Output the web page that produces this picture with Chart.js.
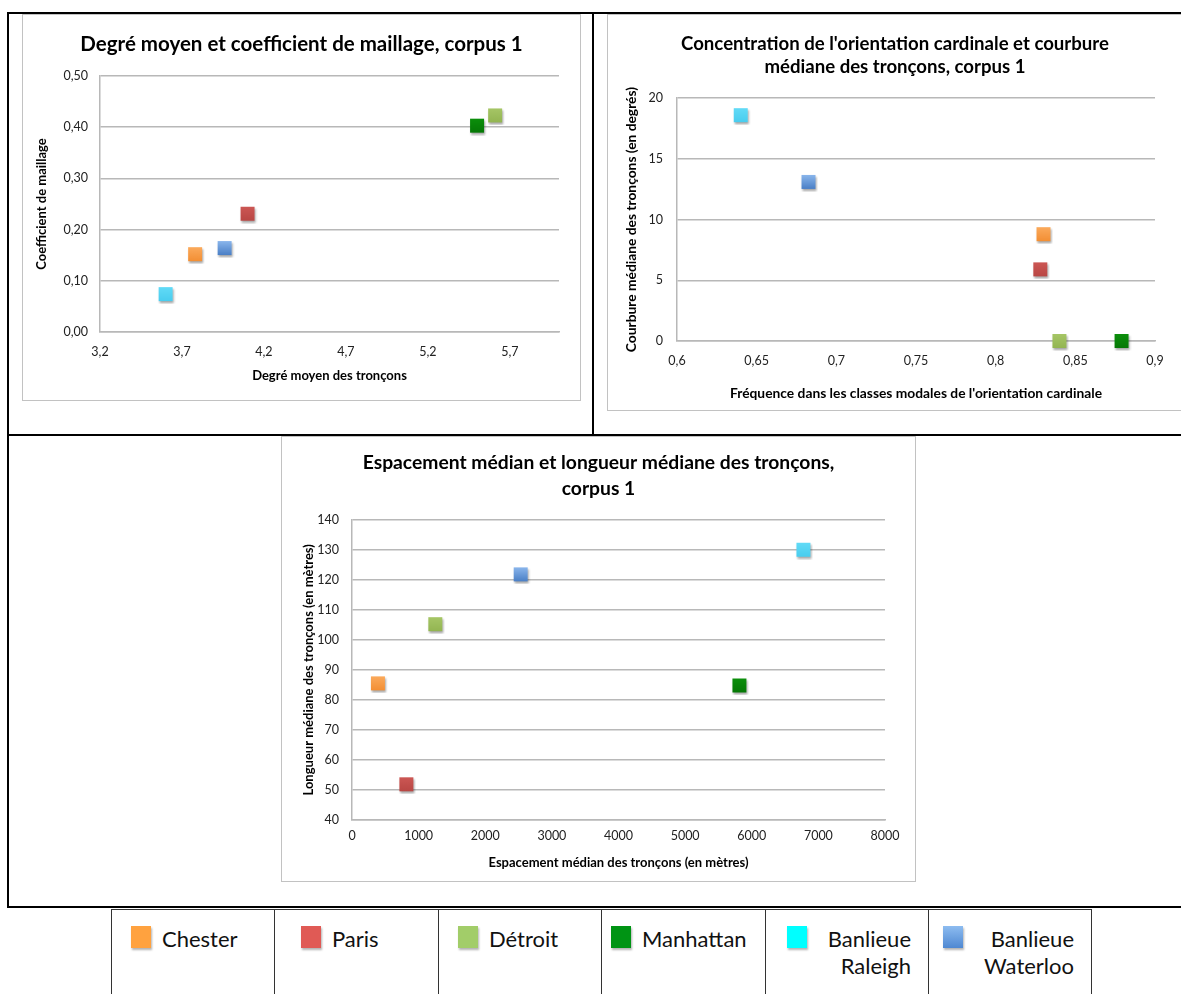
<!DOCTYPE html>
<html lang="fr">
<head>
<meta charset="utf-8">
<title>Corpus 1</title>
<script src="https://cdn.jsdelivr.net/npm/chart.js@4.4.1/dist/chart.umd.min.js"></script>
<style>
    body { margin: 0; width: 1181px; height: 994px; overflow: hidden; background: #fff; position: relative; font-family: 'Lato', sans-serif; }
    .line { position: absolute; background: #000; }
    .box { position: absolute; box-sizing: border-box; border: 1px solid #c2c2c2; background: #fff; }
    .box canvas { display: block; }
    .legend { position: absolute; left: 111px; top: 909px; width: 981px; height: 110px; display: flex; box-sizing: border-box; border-top: 1.5px solid #333; }
    .cell { box-sizing: border-box; border-left: 1.5px solid #333; display: flex; align-items: flex-start; padding-top: 15px; font-size: 22px; line-height: 27px; color: #111; }
    .cell:last-child { border-right: 1.5px solid #333; }
    .swatch { width: 20px; height: 22px; flex: none; margin-top: 1px; box-shadow: 1px 2px 2px rgba(0, 0, 0, 0.3); }
    .label { margin-left: 11px; }
    .label.right { flex: 1; text-align: right; padding-right: 17px; }
</style>
</head>
<body>
<div class="line" style="left:7px;top:12px;width:1180px;height:2px"></div>
<div class="line" style="left:7px;top:12px;width:2px;height:896px"></div>
<div class="line" style="left:592px;top:12px;width:2px;height:424px"></div>
<div class="line" style="left:7px;top:434px;width:1180px;height:2px"></div>
<div class="line" style="left:7px;top:906px;width:1180px;height:2px"></div>

<div class="box" style="left:22px;top:14px;width:559px;height:387px"><canvas id="c1" width="557" height="385"></canvas></div>
<div class="box" style="left:607px;top:14px;width:576px;height:397px"><canvas id="c2" width="574" height="395"></canvas></div>
<div class="box" style="left:281px;top:436px;width:635px;height:446px"><canvas id="c3" width="633" height="444"></canvas></div>

<div class="legend" id="legend"></div>

<script>
// villes du corpus 1, dans l'ordre de la légende
const villes = ['Chester', 'Paris', 'Détroit', 'Manhattan', 'Banlieue Raleigh', 'Banlieue Waterloo'];

// graphique 1 : degré moyen / coefficient de maillage
const degreMoyen = [3.78, 4.10, 5.61, 5.50, 3.60, 3.96];
const coefMaillage = [0.152, 0.231, 0.423, 0.403, 0.074, 0.164];
const ticksDegre = [3.2, 3.7, 4.2, 4.7, 5.2, 5.7];
const ticksCoef = [0, 0.1, 0.2, 0.3, 0.4, 0.5];

// graphique 2 : fréquence modale / courbure médiane
const freqModale = [0.830, 0.828, 0.840, 0.879, 0.640, 0.6825];
const courbure = [8.8, 5.9, 0, 0, 18.6, 13.1];
const ticksFreq = [0.6, 0.65, 0.7, 0.75, 0.8, 0.85, 0.9];
const ticksCourbure = [0, 5, 10, 15, 20];

// graphique 3 : espacement médian / longueur médiane
const espacement = [389, 816, 1250, 5815, 6775, 2531];
const longueur = [85.5, 51.9, 105.2, 84.8, 130.0, 121.8];
const ticksEspacement = [0, 1000, 2000, 3000, 4000, 5000, 6000, 7000, 8000];
const ticksLongueur = [40, 50, 60, 70, 80, 90, 100, 110, 120, 130, 140];

// couleurs des marqueurs (haut / bas du dégradé) et des carrés de légende
const markerColors = [
    ['#fbaa5c', '#f38f34'],
    ['#cc5754', '#b94744'],
    ['#a6c666', '#93b552'],
    ['#0c8f0c', '#067806'],
    ['#62dbf7', '#49cdef'],
    ['#8ab6ec', '#4a7fc6']
];
const legendColors = ['#ffa23f', '#e05a55', '#a2cd69', '#009414', '#00ffff', 'linear-gradient(#8dbcf0, #4f88d2)'];
const legendPad = [19, 26, 19, 9, 21, 14];

const gridColor = '#b8b8b8';
Chart.defaults.font.family = "'Lato', sans-serif";
Chart.defaults.color = '#222';

/**
 * Draws one Excel-like square marker (gradient + small shadow) on its own canvas.
 */
function makeMarker (top, bottom) {
    const c = document.createElement('canvas');
    c.width = 20;
    c.height = 20;
    const ctx = c.getContext('2d');
    ctx.shadowColor = 'rgba(0, 0, 0, 0.35)';
    ctx.shadowBlur = 2;
    ctx.shadowOffsetX = 0.5;
    ctx.shadowOffsetY = 1.5;
    const g = ctx.createLinearGradient(0, 3, 0, 17);
    g.addColorStop(0, top);
    g.addColorStop(1, bottom);
    ctx.fillStyle = g;
    ctx.fillRect(3, 3, 14, 14);
    return c;
}
const markers = markerColors.map(function (m) { return makeMarker(m[0], m[1]); });

/**
 * Builds one scatter chart. cfg holds the data arrays, the tick lists and the layout numbers.
 * The side padding is the same left and right so the title stays centred on the box,
 * the y axis width is reduced by that padding.
 */
function makeScatter (id, cfg) {
    const side = cfg.padRight;
    const datasets = villes.map(function (v, i) {
        return {
            label: v,
            data: [{ x: cfg.xs[i], y: cfg.ys[i] }],
            pointStyle: markers[i],
            pointRadius: 8,
            clip: false
        };
    });

    return new Chart(document.getElementById(id), {
        type: 'scatter',
        data: { datasets: datasets },
        options: {
            responsive: false,
            animation: false,
            devicePixelRatio: 1,
            layout: { padding: { left: side, right: side, top: 0, bottom: 0 } },
            plugins: {
                legend: { display: false },
                tooltip: { enabled: false },
                title: {
                    display: true,
                    text: cfg.title,
                    color: '#000',
                    font: { size: cfg.titleSize, weight: 'bold', lineHeight: cfg.titleLine },
                    padding: { top: cfg.titleTop, bottom: cfg.titleBottom }
                }
            },
            scales: {
                x: {
                    type: 'linear',
                    position: 'bottom',
                    min: cfg.xMin,
                    max: cfg.xMax,
                    afterBuildTicks: function (s) { s.ticks = cfg.xTicks.map(function (v) { return { value: v }; }); },
                    afterFit: function (s) { s.height = cfg.xHeight; },
                    grid: { display: false, drawTicks: false },
                    border: { display: true, color: gridColor, width: 1.5 },
                    ticks: { callback: cfg.xFmt, padding: cfg.xTickPad, autoSkip: false, maxRotation: 0, font: { size: 12.5 } },
                    title: { display: true, text: cfg.xTitle, color: '#000', font: { size: cfg.axisSize, weight: 'bold' }, padding: { top: 0, bottom: cfg.xTitlePad } }
                },
                y: {
                    type: 'linear',
                    min: cfg.yMin,
                    max: cfg.yMax,
                    afterBuildTicks: function (s) { s.ticks = cfg.yTicks.map(function (v) { return { value: v }; }); },
                    afterFit: function (s) { s.width = cfg.yWidth - side; },
                    grid: { color: gridColor, lineWidth: 1.5, drawTicks: false },
                    border: { display: true, color: gridColor, width: 1.5 },
                    ticks: { callback: cfg.yFmt, padding: cfg.yTickPad, autoSkip: false, font: { size: 12.5 } },
                    title: { display: true, text: cfg.yTitle, color: '#000', font: { size: cfg.axisSize, weight: 'bold' }, padding: { top: cfg.yTitlePad - side, bottom: 0 } }
                }
            }
        }
    });
}

function virgule (dp) {
    return function (v) { return (dp === null ? String(v) : v.toFixed(dp)).replace('.', ','); };
}

makeScatter('c1', {
    xs: degreMoyen, ys: coefMaillage,
    xMin: 3.2, xMax: 6.0, xTicks: ticksDegre, xFmt: virgule(1),
    yMin: 0, yMax: 0.5, yTicks: ticksCoef, yFmt: virgule(2),
    title: 'Degré moyen et coefficient de maillage, corpus 1',
    titleSize: 20.5, titleLine: 1.2, titleTop: 16.7, titleBottom: 19.7,
    xTitle: 'Degré moyen des tronçons', yTitle: 'Coefficient de maillage',
    axisSize: 13, padRight: 21, xHeight: 68, yWidth: 77,
    xTickPad: 12.5, yTickPad: 12, xTitlePad: 16, yTitlePad: 11
});

makeScatter('c2', {
    xs: freqModale, ys: courbure,
    xMin: 0.6, xMax: 0.9, xTicks: ticksFreq, xFmt: virgule(null),
    yMin: 0, yMax: 20, yTicks: ticksCourbure, yFmt: virgule(null),
    title: ['Concentration de l\'orientation cardinale et courbure', 'médiane des tronçons, corpus 1'],
    titleSize: 18.6, titleLine: 1.24, titleTop: 17.5, titleBottom: 19.5,
    xTitle: 'Fréquence dans les classes modales de l\'orientation cardinale',
    yTitle: 'Courbure médiane des tronçons (en degrés)',
    axisSize: 13.8, padRight: 27, xHeight: 69, yWidth: 69,
    xTickPad: 12, yTickPad: 14, xTitlePad: 8.5, yTitlePad: 15.5
});

makeScatter('c3', {
    xs: espacement, ys: longueur,
    xMin: 0, xMax: 8000, xTicks: ticksEspacement, xFmt: virgule(null),
    yMin: 40, yMax: 140, yTicks: ticksLongueur, yFmt: virgule(null),
    title: ['Espacement médian et longueur médiane des tronçons,', 'corpus 1'],
    titleSize: 19.3, titleLine: 1.39, titleTop: 12, titleBottom: 17,
    xTitle: 'Espacement médian des tronçons (en mètres)',
    yTitle: 'Longueur médiane des tronçons (en mètres)',
    axisSize: 13, padRight: 30, xHeight: 61, yWidth: 70,
    xTickPad: 8.5, yTickPad: 13, xTitlePad: 10, yTitlePad: 19
});

// légende commune, en tableau sous les graphiques
const legend = document.getElementById('legend');
const cellWidths = [163, 164, 163, 164, 163, 164];
villes.forEach(function (v, i) {
    const cell = document.createElement('div');
    cell.className = 'cell';
    cell.style.width = cellWidths[i] + 'px';
    cell.style.paddingLeft = legendPad[i] + 'px';
    const sw = document.createElement('div');
    sw.className = 'swatch';
    sw.style.background = legendColors[i];
    const lab = document.createElement('div');
    const words = v.split(' ');
    if (words.length > 1) {
        lab.className = 'label right';
        lab.innerHTML = words.join('<br>');
    } else {
        lab.className = 'label';
        lab.textContent = v;
    }
    cell.appendChild(sw);
    cell.appendChild(lab);
    legend.appendChild(cell);
});
</script>
</body>
</html>
